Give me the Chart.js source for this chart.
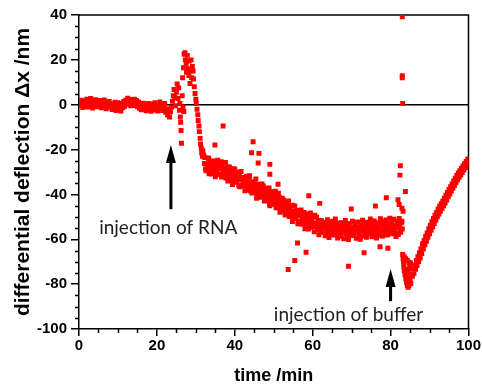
<!DOCTYPE html>
<html>
<head>
<meta charset="utf-8">
<script src="https://cdn.jsdelivr.net/npm/chart.js@4.4.1/dist/chart.umd.min.js"></script>
<style>
  html, body { margin: 0; padding: 0; background: #fff; }
  #wrap { width: 482px; height: 390px; }
</style>
</head>
<body>
<div id="wrap"><canvas id="deflection" width="482" height="390"></canvas></div>
<script>
// time (min), deflection (nm)
var baseline = [
  [0.0,1.5],[0.25,-0.5],[0.5,2.0],[0.75,0.3],[1.0,-1.2],[1.25,1.8],[1.5,0.5],[1.75,-0.8],
  [2.0,2.4],[2.25,0.9],[2.5,-1.0],[2.75,1.2],[3.0,2.8],[3.25,0.1],[3.5,-1.5],[3.75,1.6],
  [4.0,0.4],[4.25,2.2],[4.5,-0.9],[4.75,1.0],[5.0,-0.3],[5.25,1.9],[5.5,0.6],[5.75,-1.4],
  [6.0,1.3],[6.25,-0.2],[6.5,2.1],[6.75,0.2],[7.0,-1.8],[7.25,0.8],[7.5,-0.6],[7.75,1.5],
  [8.0,-1.1],[8.25,0.3],[8.5,-2.2],[8.75,0.0],[9.0,-1.5],[9.25,1.1],[9.5,-2.6],[9.75,-0.4],
  [10.0,0.9],[10.25,-1.9],[10.5,-0.2],[10.75,-2.8],[11.0,0.5],[11.25,-1.3],[11.5,1.4],[11.75,-0.7],
  [12.0,2.0],[12.25,0.6],[12.5,2.9],[12.75,0.2],[13.0,1.7],[13.25,-0.5],[13.5,2.3],[13.75,1.0],
  [14.0,-0.4],[14.25,2.5],[14.5,0.8],[14.75,1.9],[15.0,-0.8],[15.25,1.2],[15.5,-1.6],[15.75,0.4],
  [16.0,-2.3],[16.25,-0.5],[16.5,0.7],[16.75,-1.9],[17.0,-0.2],[17.25,-2.7],[17.5,-1.0],[17.75,0.6],
  [18.0,-1.8],[18.25,-0.4],[18.5,-2.9],[18.75,0.3],[19.0,-1.2],[19.25,-2.4],[19.5,0.9],[19.75,-1.5],
  [20.0,-0.3],[20.25,-2.8],[20.5,-0.9],[20.75,1.2],[21.0,-1.7],[21.25,-0.1],[21.5,-2.6],[21.75,-1.1],
  [22.0,0.5],[22.25,-3.4],[22.5,-1.8],[22.75,-4.6],[23.0,-2.5],[23.25,-5.5],[23.5,-3.2],[23.75,-1.0]
];

var rnaPeak = [
  [24.0,1.5],[24.2,4.0],[24.4,6.8],[24.6,3.2],[24.8,-0.5],[25.0,5.5],[25.2,9.2],[25.4,2.8],
  [25.6,7.5],[25.8,-2.5],[26.0,-5.5],[26.1,-7.8],[26.2,-11.5],[26.3,-17.2],[25.9,0.5],[26.5,4.0],
  [26.7,-1.0],[26.9,-3.0],[26.6,12.0],[26.8,16.5],[27.0,22.5],[27.2,23.2],[27.3,20.0],[27.5,18.0],
  [27.6,14.5],[27.8,22.0],[28.0,16.0],[28.2,13.0],[28.3,19.5],[28.5,9.5],[28.6,15.0],[28.8,20.0],
  [28.9,12.0],[29.1,17.0],[29.3,15.0],[29.4,11.5],[29.6,8.0],[29.8,5.0],[30.0,2.5],[30.1,0.5],
  [30.3,-2.0],[30.5,-4.5],[30.6,-7.0],[30.8,-9.5],[30.9,-12.0],[31.1,-15.0],[31.2,-17.5],[31.4,-19.5],
  [31.5,-21.5],[31.7,-23.0]
];

var decay = [
  [31.8,-20.5],[32.0,-22.4],[32.2,-26.2],[32.4,-23.6],[32.6,-29.4],[32.8,-26.5],[33.0,-27.8],[33.2,-23.8],
  [33.4,-30.8],[33.6,-26.1],[33.8,-28.9],[34.0,-27.3],[34.2,-28.0],[34.4,-25.1],[34.6,-30.0],[34.8,-26.3],
  [35.0,-32.1],[35.2,-27.2],[35.4,-29.2],[35.6,-24.8],[35.8,-28.6],[36.0,-31.2],[36.2,-26.8],[36.4,-28.3],
  [36.6,-32.2],[36.8,-26.8],[37.0,-30.3],[37.2,-28.5],[37.4,-31.4],[37.6,-25.7],[37.8,-30.4],[38.0,-28.6],
  [38.2,-34.0],[38.4,-30.2],[38.6,-27.8],[38.8,-32.4],[39.0,-31.2],[39.2,-29.2],[39.4,-35.6],[39.6,-30.7],
  [39.8,-32.8],[40.0,-28.8],[40.2,-34.6],[40.4,-31.8],[40.6,-33.3],[40.8,-30.4],[41.0,-35.9],[41.2,-31.7],
  [41.4,-33.3],[41.6,-29.8],[41.8,-35.9],[42.0,-33.2],[42.2,-35.6],[42.4,-32.5],[42.6,-38.4],[42.8,-34.4],
  [43.0,-31.9],[43.2,-35.7],[43.4,-38.0],[43.6,-34.4],[43.8,-31.7],[44.0,-37.1],[44.2,-35.6],[44.4,-39.4],
  [44.6,-34.3],[44.8,-37.0],[45.0,-35.2],[45.2,-39.0],[45.4,-33.1],[45.6,-41.7],[45.8,-36.6],[46.0,-38.9],
  [46.2,-35.4],[46.4,-38.3],[46.6,-41.3],[46.8,-37.3],[47.0,-35.3],[47.2,-40.6],[47.4,-38.6],[47.6,-42.9],
  [47.8,-37.2],[48.0,-40.5],[48.2,-38.3],[48.4,-42.6],[48.6,-40.4],[48.8,-37.1],[49.0,-45.1],[49.2,-39.9],
  [49.4,-42.3],[49.6,-38.8],[49.8,-44.4],[50.0,-41.5],[50.2,-42.7],[50.4,-38.6],[50.6,-46.0],[50.8,-41.6],
  [51.0,-45.0],[51.2,-43.3],[51.4,-41.2],[51.6,-48.0],[51.8,-43.4],[52.0,-45.4],[52.2,-41.7],[52.4,-47.1],
  [52.6,-43.3],[52.8,-46.0],[53.0,-49.2],[53.2,-43.7],[53.4,-45.8],[53.6,-47.9],[53.8,-42.9],[54.0,-49.8],
  [54.2,-46.1],[54.4,-48.0],[54.6,-45.0],[54.8,-52.1],[55.0,-47.6],[55.2,-49.6],[55.4,-45.2],[55.6,-50.8],
  [55.8,-47.3],[56.0,-49.4],[56.2,-53.1],[56.4,-47.3],[56.6,-49.3],[56.8,-52.0],[57.0,-46.9],[57.2,-53.3],
  [57.4,-49.7],[57.6,-51.4],[57.8,-48.1],[58.0,-55.3],[58.2,-50.9],[58.4,-52.6],[58.6,-49.5],[58.8,-54.7],
  [59.0,-50.3],[59.2,-52.3],[59.4,-48.3],[59.6,-54.6],[59.8,-51.5],[60.0,-54.1],[60.2,-49.9],[60.4,-56.7],
  [60.6,-52.7],[60.8,-53.8],[61.0,-50.1],[61.2,-55.4],[61.4,-52.1],[61.6,-58.0],[61.8,-53.1],[62.0,-54.8],
  [62.2,-51.6],[62.4,-56.9],[62.6,-52.5],[62.8,-54.8]
];

var plateau = [
  [63.0,-52.9],[63.2,-58.4],[63.4,-54.5],[63.6,-56.4],[63.8,-51.3],[64.0,-55.6],[64.2,-59.2],[64.4,-53.7],
  [64.6,-57.0],[64.8,-52.2],[65.0,-54.9],[65.2,-58.1],[65.4,-53.2],[65.6,-55.9],[65.8,-50.9],[66.0,-57.5],
  [66.2,-54.3],[66.4,-59.4],[66.6,-52.7],[66.8,-56.2],[67.0,-54.9],[67.2,-58.7],[67.4,-52.6],[67.6,-56.3],
  [67.8,-55.2],[68.0,-59.8],[68.2,-53.9],[68.4,-51.6],[68.6,-57.4],[68.8,-55.8],[69.0,-54.2],[69.2,-60.1],
  [69.4,-52.9],[69.6,-56.9],[69.8,-55.0],[70.0,-58.3],[70.2,-51.9],[70.4,-55.6],[70.6,-57.9],[70.8,-53.4],
  [71.0,-56.5],[71.2,-59.6],[71.4,-54.5],[71.6,-52.3],[71.8,-57.2],[72.0,-55.3],[72.2,-60.0],[72.4,-53.6],
  [72.6,-56.1],[72.8,-51.5],[73.0,-58.5],[73.2,-54.8],[73.4,-56.7],[73.6,-52.4],[73.8,-59.1],[74.0,-55.5],
  [74.2,-53.0],[74.4,-57.6],[74.6,-54.1],[74.8,-50.9],[75.0,-56.8],[75.2,-58.9],[75.4,-53.7],[75.6,-55.9],
  [75.8,-51.8],[76.0,-57.3],[76.2,-54.6],[76.4,-59.4],[76.6,-52.8],[76.8,-55.4],[77.0,-57.8],[77.2,-53.1],
  [77.4,-50.8],[77.6,-56.3],[77.8,-54.0],[78.0,-58.6],[78.2,-52.2],[78.4,-55.1],[78.6,-57.0],[78.8,-51.4],
  [79.0,-54.7],[79.2,-58.1],[79.4,-53.5],[79.6,-56.2],[79.8,-50.6],[80.0,-55.8],[80.2,-52.9],[80.4,-57.5],
  [80.6,-54.3],[80.8,-51.1],[81.0,-56.6],[81.2,-53.8],[81.4,-58.8],[81.6,-52.0],[81.8,-55.0],[82.0,-57.9],
  [82.2,-50.7],[82.4,-54.6],[82.6,-56.9],[82.8,-52.5],[83.0,-55.4]
];

// second sweep of readings through the same band (between the points above)
var bandFill = [
  [32.1,-23.3],[32.5,-28.6],[32.9,-26.6],[33.3,-24.3],[33.7,-28.5],[34.1,-30.9],[34.5,-27.0],[34.9,-26.0],
  [35.3,-28.7],[35.7,-31.1],[36.1,-26.9],[36.5,-25.4],[36.9,-30.8],[37.3,-29.2],[37.7,-32.7],[38.1,-27.7],
  [38.5,-31.3],[38.9,-29.7],[39.3,-33.4],[39.7,-28.5],[40.1,-32.3],[40.5,-34.0],[40.9,-30.1],[41.3,-36.6],
  [41.7,-32.9],[42.1,-32.4],[42.5,-36.3],[42.9,-34.5],[43.3,-36.4],[43.7,-32.4],[44.1,-38.6],[44.5,-35.3],
  [44.9,-34.7],[45.3,-37.7],[45.7,-40.5],[46.1,-35.6],[46.5,-39.7],[46.9,-38.1],[47.3,-36.2],[47.7,-41.9],
  [48.1,-39.9],[48.5,-39.0],[48.9,-44.2],[49.3,-39.1],[49.7,-41.2],[50.1,-44.1],[50.5,-39.4],[50.9,-43.8],
  [51.3,-45.9],[51.7,-43.1],[52.1,-45.6],[52.5,-42.6],[52.9,-48.8],[53.3,-45.3],[53.7,-44.7],[54.1,-49.6],
  [54.5,-47.5],[54.9,-44.8],[55.3,-49.8],[55.7,-49.7],[56.1,-47.1],[56.5,-52.8],[56.9,-49.0],[57.3,-50.9],
  [57.7,-50.1],[58.1,-53.3],[58.5,-48.7],[58.9,-55.4],[59.3,-50.4],[59.7,-52.7],[60.1,-54.3],[60.5,-49.3],
  [60.9,-54.3],[61.3,-53.1],[61.7,-56.0],[62.1,-51.9],[62.5,-54.8],[62.9,-53.2],[63.3,-58.0],[63.7,-52.4],
  [64.1,-56.5],[64.5,-54.2],[64.9,-55.9],[65.3,-51.9],[65.7,-57.2],[66.1,-54.9],[66.5,-56.8],[66.9,-53.3],
  [67.3,-58.2],[67.7,-55.0],[68.1,-53.1],[68.5,-56.6],[68.9,-58.8],[69.3,-53.6],[69.7,-55.8],[70.1,-54.9],
  [70.5,-57.5],[70.9,-52.6],[71.3,-56.9],[71.7,-55.3],[72.1,-58.6],[72.5,-54.0],[72.9,-56.2],[73.3,-52.8],
  [73.7,-57.5],[74.1,-54.0],[74.5,-55.2],[74.9,-52.0],[75.3,-56.9],[75.7,-54.6],[76.1,-57.8],[76.5,-53.7],
  [76.9,-55.5],[77.3,-52.3],[77.7,-58.4],[78.1,-54.2],[78.5,-56.3],[78.9,-52.9],[79.3,-54.6],[79.7,-56.8],
  [80.1,-52.9],[80.5,-51.2],[80.9,-56.1],[81.3,-53.8],[81.7,-57.4],[82.1,-53.4],[82.5,-55.3],[82.9,-52.0]
];

var strays = [
  [34.9,-18.0],[37.0,-9.5],[44.7,-16.5],[44.3,-21.4],[46.2,-21.7],[46.0,-26.0],[49.0,-26.6],[49.0,-31.0],
  [51.1,-35.5],[51.2,-39.5],[59.0,-40.6],[61.8,-44.0],[69.9,-46.5],[76.1,-45.2],[78.9,-41.5],[81.9,-42.4],
  [53.7,-73.5],[55.4,-69.5],[56.1,-61.7],[58.3,-65.8],[69.2,-72.0],[73.2,-66.0],[77.3,-63.3],[79.3,-64.0]
];

var bufferSpike = [
  [83.0,39.2],[83.0,12.9],[83.0,12.0],[83.1,0.6],[82.5,-27.2],[82.4,-31.4],[83.8,-38.7],[82.2,-44.5],
  [82.9,-46.2],[83.2,-47.5]
];

var recovery = [
  [83.1,-66.8],[83.2,-68.6],[83.3,-70.3],[83.4,-72.2],[83.5,-74.0],[83.7,-75.8],[83.9,-77.6],[84.1,-79.3],
  [84.3,-80.6],[84.5,-81.4],[84.7,-80.6],[83.5,-67.8],[83.9,-68.7],[84.3,-69.5],[84.7,-70.2],[85.1,-70.6],
  [84.9,-72.0],[84.6,-73.4],[84.3,-74.8],[84.1,-76.2],
  [84.9,-79.0],[85.0,-77.5],[85.2,-79.7],[85.4,-75.6],[85.6,-76.5],[85.8,-73.2],[86.0,-75.3],[86.2,-71.5],
  [86.4,-73.4],[86.6,-69.4],[86.8,-71.7],[87.0,-67.8],[87.2,-69.9],[87.4,-66.0],[87.6,-68.4],[87.8,-64.2],
  [88.0,-66.4],[88.2,-62.0],[88.4,-64.3],[88.6,-60.5],[88.8,-62.5],[89.0,-58.6],[89.2,-60.9],[89.4,-57.2],
  [89.6,-59.1],[89.8,-55.3],[90.0,-57.5],[90.2,-53.8],[90.4,-56.0],[90.6,-52.2],[90.8,-54.5],[91.0,-50.7],
  [91.2,-53.0],[91.4,-49.3],[91.6,-51.5],[91.8,-48.0],[92.0,-50.0],[92.2,-46.6],[92.4,-48.7],[92.6,-45.3],
  [92.8,-47.5],[93.0,-44.2],[93.2,-46.3],[93.4,-43.0],[93.6,-45.1],[93.8,-41.7],[94.0,-43.8],[94.2,-40.4],
  [94.4,-42.5],[94.6,-39.1],[94.8,-41.1],[95.0,-37.8],[95.2,-39.8],[95.4,-36.6],[95.6,-38.5],[95.8,-35.3],
  [96.0,-37.3],[96.2,-34.0],[96.4,-36.0],[96.6,-32.8],[96.8,-34.7],[97.0,-31.5],[97.2,-33.5],[97.4,-30.4],
  [97.6,-32.3],[97.8,-29.4],[98.0,-31.3],[98.2,-28.3],[98.4,-30.2],[98.6,-27.3],[98.8,-29.1],[99.0,-26.3],
  [99.2,-28.1],[99.4,-25.3],[99.6,-27.0],[99.8,-24.2],[100.0,-25.9]
];

// arrows: x, tip, tail (data units) and label centre
var notes = [
  {text: "injection of RNA", x: 23.6, tip: -18, tail: -46.6, tx: 22.9, ty: -54.9},
  {text: "injection of buffer", x: 80.0, tip: -73.3, tail: -87.6, tx: 69.2, ty: -93.8}
];

var points = [].concat(baseline, rnaPeak, decay, plateau, bandFill, strays, bufferSpike, recovery)
  .map(function (p) { return {x: p[0], y: p[1]}; });

var axisFont = {family: "'Liberation Sans', Arial, sans-serif", size: 15, weight: "bold"};

var decor = {
  id: "decor",
  beforeDatasetsDraw: function (chart) {
    var ctx = chart.ctx, a = chart.chartArea, x = chart.scales.x, y = chart.scales.y;
    ctx.save();
    ctx.strokeStyle = "#000";
    ctx.lineWidth = 1.5;
    ctx.beginPath();
    ctx.moveTo(a.left, a.top);
    ctx.lineTo(a.right, a.top);
    ctx.lineTo(a.right, a.bottom);
    ctx.stroke();
    var y0 = y.getPixelForValue(0);
    ctx.beginPath();
    ctx.moveTo(a.left, y0);
    ctx.lineTo(a.right, y0);
    ctx.stroke();
    // minor ticks
    ctx.beginPath();
    for (var v = 5; v < 100; v += 5) {
      if (v % 20 === 0) continue;
      var px = Math.round(x.getPixelForValue(v)) + 0.5;
      ctx.moveTo(px, a.bottom);
      ctx.lineTo(px, a.bottom + 4);
    }
    for (var w = -95; w < 40; w += 5) {
      if (w % 20 === 0) continue;
      var py = Math.round(y.getPixelForValue(w)) + 0.5;
      ctx.moveTo(a.left, py);
      ctx.lineTo(a.left - 4, py);
    }
    ctx.stroke();
    ctx.restore();
  },
  afterDatasetsDraw: function (chart) {
    var ctx = chart.ctx, x = chart.scales.x, y = chart.scales.y;
    ctx.save();
    notes.forEach(function (n) {
      var px = x.getPixelForValue(n.x);
      var tip = y.getPixelForValue(n.tip);
      var tail = y.getPixelForValue(n.tail);
      ctx.strokeStyle = "#000";
      ctx.fillStyle = "#000";
      ctx.lineWidth = 3;
      ctx.beginPath();
      ctx.moveTo(px, tail);
      ctx.lineTo(px, tip + 12);
      ctx.stroke();
      ctx.beginPath();
      ctx.moveTo(px, tip);
      ctx.lineTo(px - 5, tip + 18);
      ctx.lineTo(px + 5, tip + 18);
      ctx.closePath();
      ctx.fill();
      ctx.fillStyle = "#222";
      ctx.font = "19px Lato, 'Open Sans', sans-serif";
      ctx.textAlign = "center";
      ctx.textBaseline = "middle";
      ctx.fillText(n.text, x.getPixelForValue(n.tx), y.getPixelForValue(n.ty));
    });
    ctx.restore();
  }
};

new Chart("deflection", {
  type: "scatter",
  data: {
    datasets: [{
      data: points,
      pointStyle: "rect",
      radius: 3.5,
      borderWidth: 0,
      backgroundColor: "#ff0000"
    }]
  },
  options: {
    responsive: false,
    animation: false,
    devicePixelRatio: 1,
    layout: {padding: {top: 15, right: 13, left: 0, bottom: 0}},
    plugins: {legend: {display: false}, tooltip: {enabled: false}},
    scales: {
      x: {
        type: "linear",
        min: 0, max: 100,
        afterFit: function (s) { s.height = 61; },
        border: {display: true, color: "#000", width: 1.5},
        grid: {display: true, drawOnChartArea: false, drawTicks: true, tickLength: 7, color: "#000", lineWidth: 1.5},
        ticks: {stepSize: 20, color: "#000", font: axisFont, padding: 1, maxRotation: 0},
        title: {display: true, text: "time /min", color: "#000",
          font: {family: "'Liberation Sans', Arial, sans-serif", size: 18, weight: "bold"},
          padding: {top: 0, bottom: 3}}
      },
      y: {
        type: "linear",
        min: -100, max: 40,
        afterFit: function (s) { s.width = 79; },
        border: {display: true, color: "#000", width: 1.5},
        grid: {display: true, drawOnChartArea: false, drawTicks: true, tickLength: 8, color: "#000", lineWidth: 1.5},
        ticks: {stepSize: 20, color: "#000", font: axisFont, padding: 4,
          callback: function (v) { return String(v); }},
        title: {display: true, text: "differential deflection \u0394x /nm", color: "#000",
          font: {family: "'Liberation Sans', Arial, sans-serif", size: 21, weight: "bold"},
          padding: {top: 11, bottom: 0}}
      }
    }
  },
  plugins: [decor]
});
</script>
</body>
</html>
